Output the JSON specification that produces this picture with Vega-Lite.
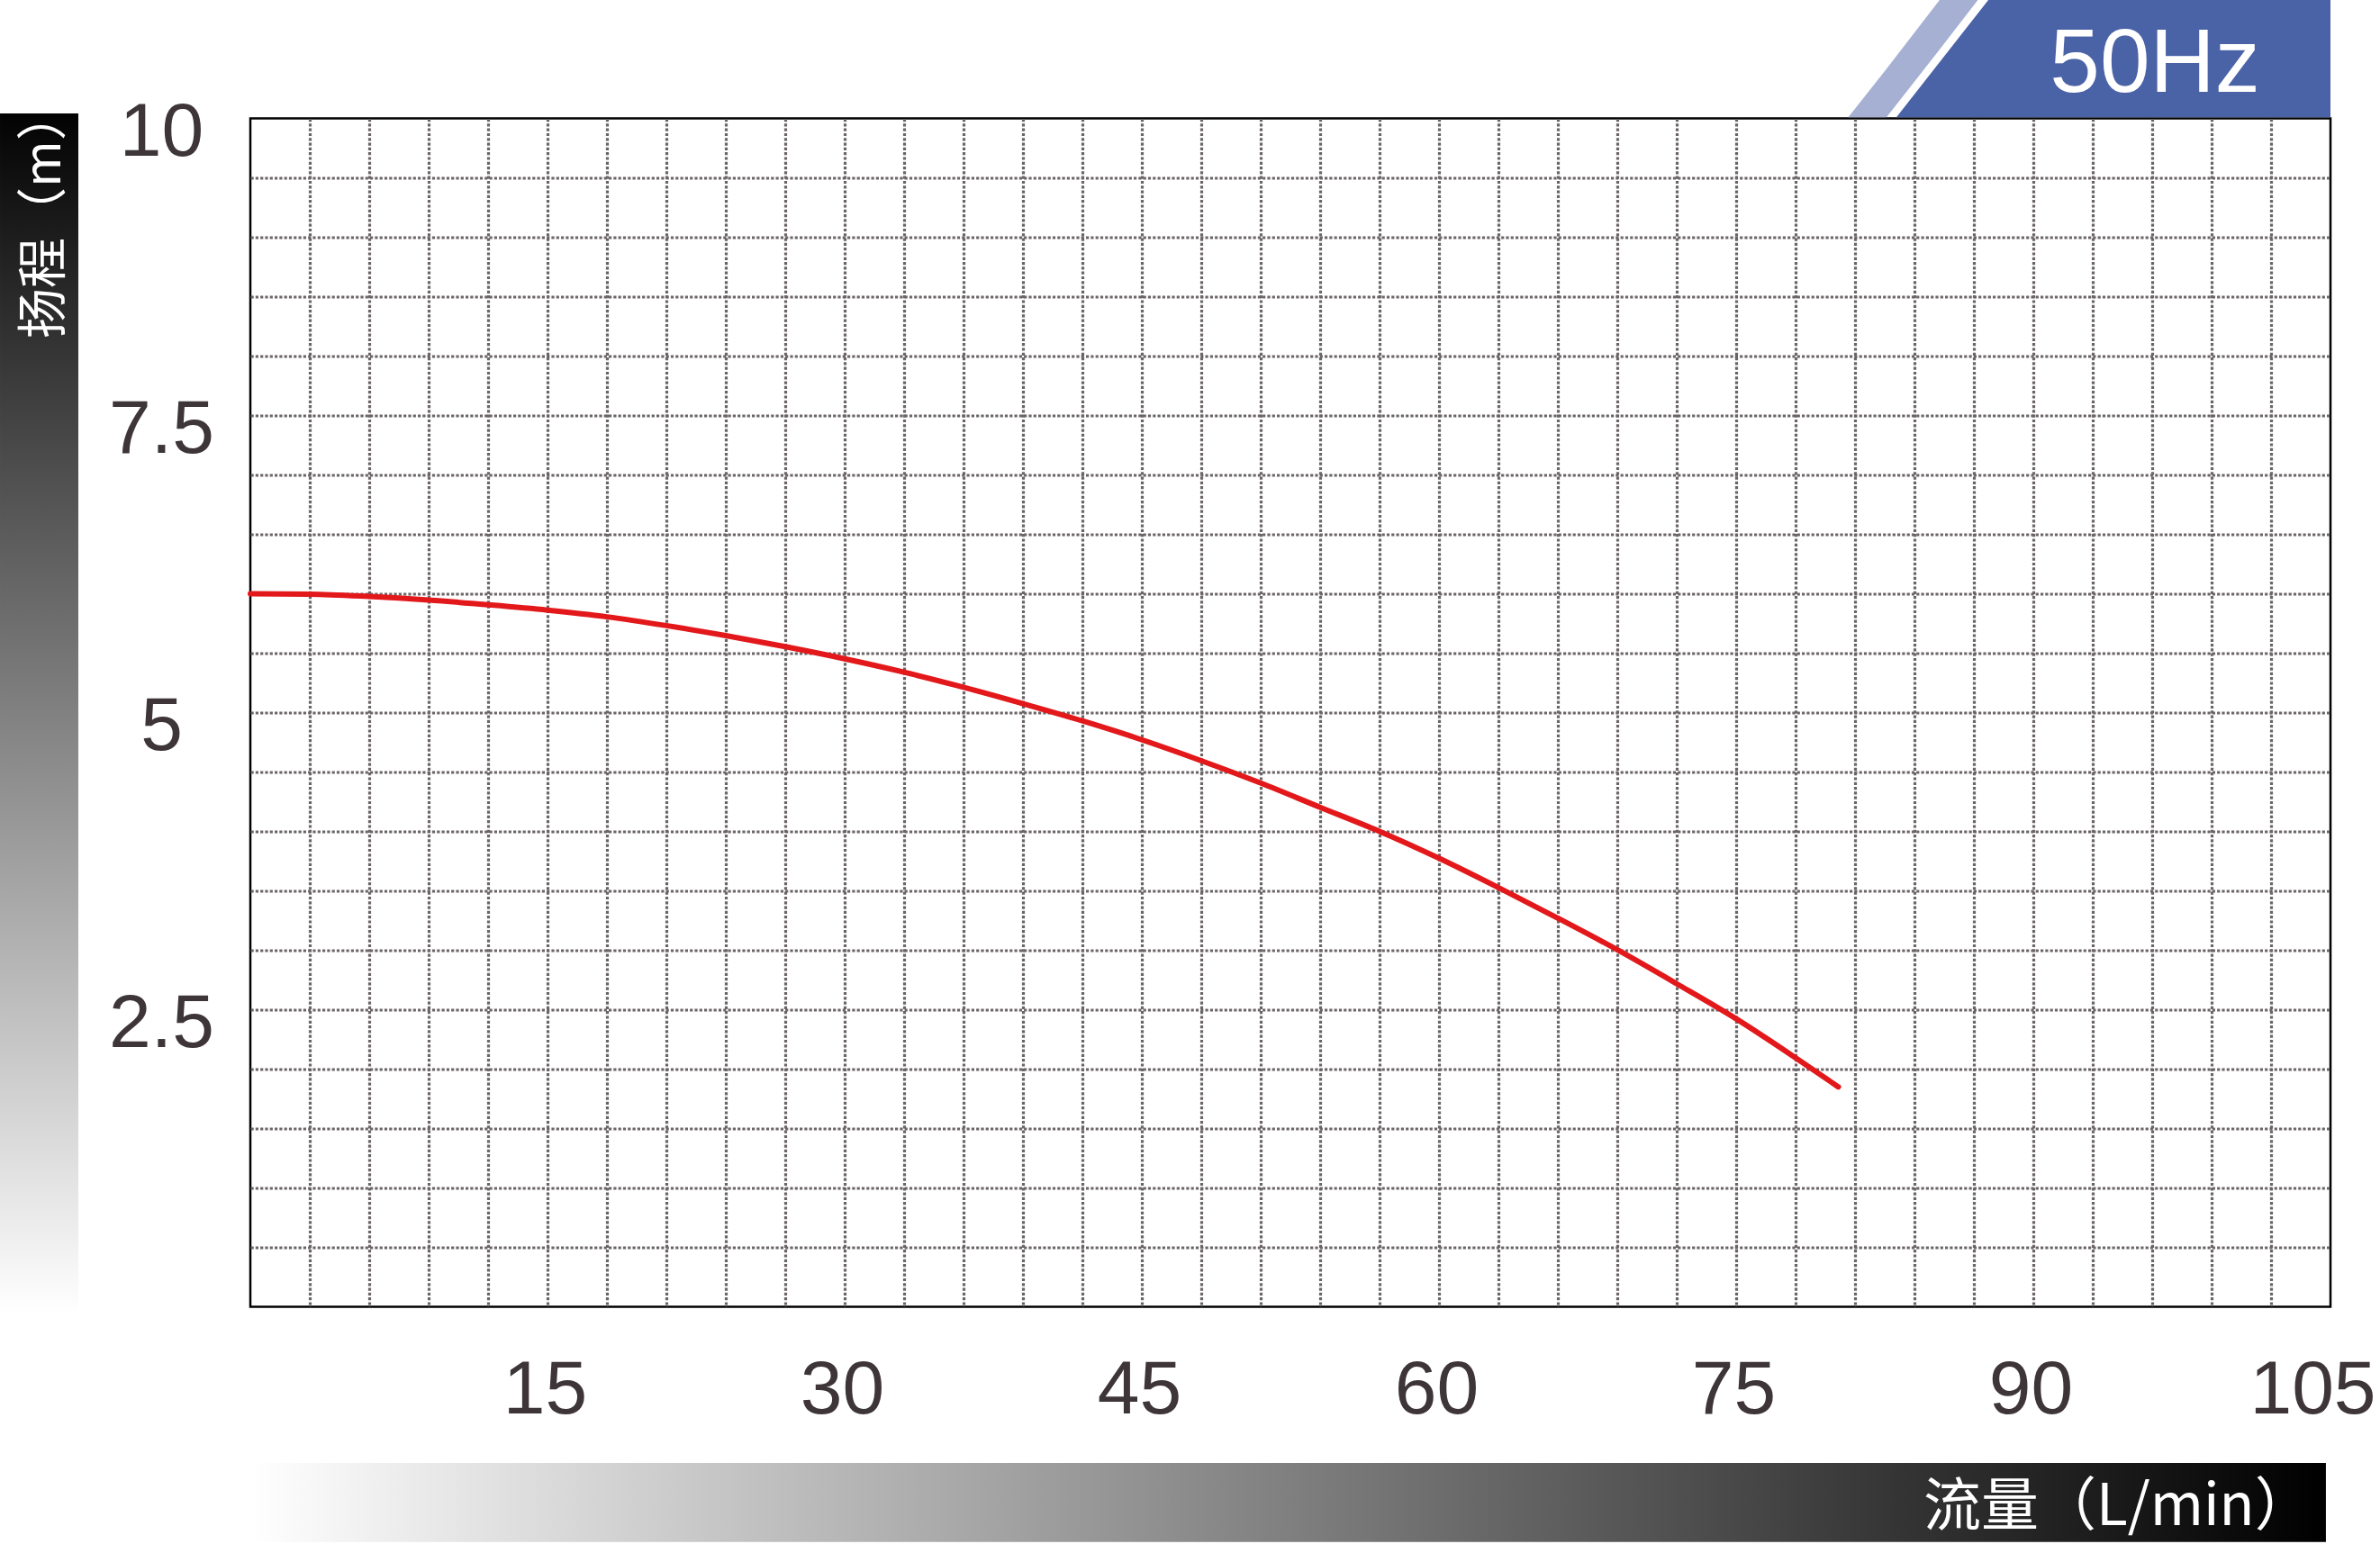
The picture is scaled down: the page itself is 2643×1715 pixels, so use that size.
{
  "$schema": "https://vega.github.io/schema/vega-lite/v6.json",
  "width": 2310,
  "height": 1320,
  "autosize": "none",
  "padding": {"left": 278, "top": 131.5, "right": 55, "bottom": 263.5},
  "background": "white",
  "config": {"view": {"stroke": "#000000", "strokeWidth": 2.5}},
  "datasets": {
    "curve": [
      {"q": 0, "h": 6.0}, {"q": 3, "h": 5.997}, {"q": 6, "h": 5.977}, {"q": 9, "h": 5.947},
      {"q": 12, "h": 5.907}, {"q": 15, "h": 5.862}, {"q": 18, "h": 5.806}, {"q": 21, "h": 5.732},
      {"q": 24, "h": 5.648}, {"q": 27, "h": 5.555}, {"q": 30, "h": 5.453}, {"q": 33, "h": 5.34},
      {"q": 36, "h": 5.213}, {"q": 39, "h": 5.075}, {"q": 42, "h": 4.93}, {"q": 45, "h": 4.771},
      {"q": 48, "h": 4.595}, {"q": 51, "h": 4.407}, {"q": 54, "h": 4.203}, {"q": 57, "h": 4.0},
      {"q": 60, "h": 3.774}, {"q": 63, "h": 3.527}, {"q": 66, "h": 3.27}, {"q": 69, "h": 3.004},
      {"q": 72, "h": 2.718}, {"q": 75, "h": 2.423}, {"q": 78, "h": 2.095}, {"q": 80.16, "h": 1.85}
    ],
    "ybar": [{"q": -12.636, "q2": -8.682, "h": 10.042, "h2": -0.06}],
    "xbar": [{"q": 0, "q2": 104.77, "h": -1.314, "h2": -1.98}],
    "badgeLight": [
      {"q": 80.66, "h": 10.01, "h2": 10.01},
      {"q": 82.59, "h": 10.417, "h2": 10.01},
      {"q": 85.27, "h": 10.996, "h2": 10.579},
      {"q": 87.2, "h": 10.996, "h2": 10.996}
    ],
    "badge": [
      {"q": 83.09, "h": 10.01, "h2": 10.01},
      {"q": 87.73, "h": 10.996, "h2": 10.01},
      {"q": 105, "h": 10.996, "h2": 10.01}
    ],
    "freq": [{"q": 96.14, "h": 10.2235, "t": "50Hz"}],
    "ytitle": [{"q": -10.36, "h": 8.148, "t": "扬程（m）"}],
    "xtitle": [{"q": 84.45, "h": -1.693, "t": "流量（L/min）"}]
  },
  "encoding": {
    "x": {
      "field": "q",
      "type": "quantitative",
      "scale": {"domain": [0, 105], "nice": false, "zero": false},
      "axis": {
        "title": null,
        "values": [0,3,6,9,12,15,18,21,24,27,30,33,36,39,42,45,48,51,54,57,60,63,66,69,72,75,78,81,84,87,90,93,96,99,102,105],
        "labelExpr": "datum.value % 15 === 0 && datum.value > 0 ? datum.label : ''",
        "domain": false,
        "ticks": false,
        "tickSize": 0,
        "grid": true,
        "gridColor": "#6b6567",
        "gridWidth": 3.2,
        "gridDash": [3.2, 2.1],
        "gridOpacity": {"condition": {"test": "datum.value === 0 || datum.value === 105", "value": 0}, "value": 1},
        "labelFont": "Liberation Sans, sans-serif",
        "labelFontSize": 84,
        "labelColor": "#3e3539",
        "labelPadding": 93,
        "labelBaseline": "middle",
        "labelAlign": "center",
        "labelOffset": {"condition": {"test": "datum.value === 105", "value": -20}, "value": -3},
        "labelOverlap": false,
        "labelBound": false,
        "labelFlush": false
      }
    },
    "y": {
      "field": "h",
      "type": "quantitative",
      "scale": {"domain": [0, 10], "nice": false, "zero": false},
      "axis": {
        "title": null,
        "values": [0,0.5,1,1.5,2,2.5,3,3.5,4,4.5,5,5.5,6,6.5,7,7.5,8,8.5,9,9.5,10],
        "labelExpr": "datum.value % 2.5 === 0 && datum.value > 0 ? format(datum.value, '~g') : ''",
        "domain": false,
        "ticks": false,
        "tickSize": 0,
        "grid": true,
        "gridColor": "#6b6567",
        "gridWidth": 3.2,
        "gridDash": [3.2, 2.1],
        "gridOpacity": {"condition": {"test": "datum.value === 0 || datum.value === 10", "value": 0}, "value": 1},
        "labelFont": "Liberation Sans, sans-serif",
        "labelFontSize": 84,
        "labelColor": "#3e3539",
        "labelPadding": 99,
        "labelBaseline": "middle",
        "labelAlign": "center",
        "labelOffset": 16,
        "labelOverlap": false,
        "labelBound": false,
        "labelFlush": false
      }
    }
  },
  "layer": [
    {
      "data": {"name": "ybar"},
      "mark": {
        "type": "rect",
        "fill": {"gradient": "linear", "x1": 0, "y1": 0, "x2": 0, "y2": 1,
          "stops": [{"offset": 0, "color": "#030303"}, {"offset": 1, "color": "#ffffff"}]}
      },
      "encoding": {"x2": {"field": "q2"}, "y2": {"field": "h2"}}
    },
    {
      "data": {"name": "xbar"},
      "mark": {
        "type": "rect",
        "fill": {"gradient": "linear", "x1": 0, "y1": 0, "x2": 1, "y2": 0,
          "stops": [{"offset": 0, "color": "#ffffff"}, {"offset": 1, "color": "#000000"}]}
      },
      "encoding": {"x2": {"field": "q2"}, "y2": {"field": "h2"}}
    },
    {
      "data": {"name": "badgeLight"},
      "mark": {"type": "area", "color": "#a5b0d3", "interpolate": "linear", "opacity": 1},
      "encoding": {"y2": {"field": "h2"}}
    },
    {
      "data": {"name": "badge"},
      "mark": {"type": "area", "color": "#4a62a6", "interpolate": "linear", "opacity": 1},
      "encoding": {"y2": {"field": "h2"}}
    },
    {
      "data": {"name": "curve"},
      "mark": {"type": "line", "color": "#e2181b", "strokeWidth": 6, "strokeCap": "round", "strokeJoin": "round", "interpolate": "monotone"}
    },
    {
      "data": {"name": "freq"},
      "mark": {"type": "text", "color": "#ffffff", "font": "Liberation Sans, sans-serif", "fontSize": 100, "align": "center", "baseline": "alphabetic"},
      "encoding": {"text": {"field": "t"}}
    },
    {
      "data": {"name": "ytitle"},
      "mark": {"type": "text", "color": "#ffffff", "font": "Noto Sans CJK SC", "fontSize": 56, "angle": 270, "align": "left", "baseline": "middle"},
      "encoding": {"text": {"field": "t"}}
    },
    {
      "data": {"name": "xtitle"},
      "mark": {"type": "text", "color": "#ffffff", "font": "Noto Sans CJK SC", "fontSize": 64, "align": "left", "baseline": "middle"},
      "encoding": {"text": {"field": "t"}}
    }
  ]
}
